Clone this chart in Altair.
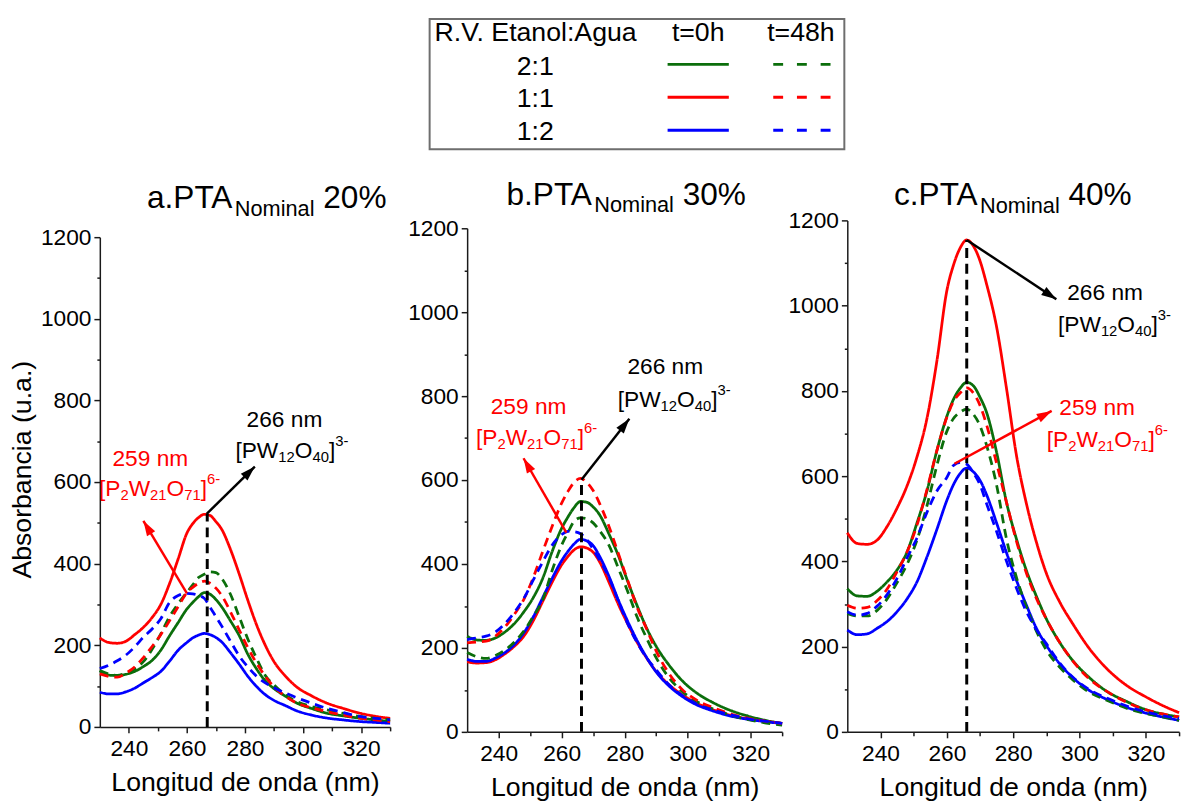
import math
import altair as alt
import pandas as pd

FONT = "Liberation Sans"

# ---------------- data ----------------
WL = [230, 233, 236, 239, 242, 245, 248, 251, 254, 257, 260, 262, 264, 266, 268,
      270, 272, 275, 278, 281, 284, 287, 290, 294, 298, 303, 308, 314, 320, 325, 330]

RATIOS = ["2:1", "1:1", "1:2"]
TIMES = ["t=0h", "t=48h"]
COLORS = ["#0b6e0b", "#ff0000", "#0000ff"]

# a. PTA Nominal 20%
A_21_0 = [138, 127, 126, 129, 136, 148, 163, 188, 223, 256, 289, 305, 319, 329, 325, 312, 294, 260, 224, 178, 142, 113, 94, 75, 58, 45, 34, 27, 21, 17, 13]
A_11_0 = [218, 207, 205, 210, 226, 244, 268, 300, 351, 412, 475, 498, 513, 521, 518, 503, 484, 435, 375, 310, 250, 200, 160, 124, 97, 76, 59, 45, 33, 26, 21]
A_12_0 = [85, 81, 81, 86, 95, 108, 121, 136, 161, 188, 207, 218, 225, 229, 226, 219, 208, 182, 154, 124, 99, 79, 65, 52, 39, 29, 22, 17, 13, 11, 9]
A_21_48 = [138, 130, 126, 132, 142, 160, 190, 228, 270, 302, 330, 348, 366, 374, 380, 378, 364, 325, 270, 215, 168, 126, 103, 78, 62, 50, 42, 33, 25, 21, 17]
A_11_48 = [130, 124, 122, 132, 147, 170, 197, 226, 260, 295, 329, 342, 352, 357, 352, 340, 322, 282, 238, 194, 156, 124, 98, 75, 58, 47, 38, 29, 21, 17, 13]
A_12_48 = [143, 151, 162, 176, 196, 220, 240, 265, 305, 322, 327, 326, 322, 315, 293, 270, 247, 210, 174, 147, 124, 108, 96, 83, 71, 58, 46, 35, 25, 21, 17]

# b. PTA Nominal 30%
B_21_0 = [228, 219, 218, 224, 238, 258, 286, 320, 366, 430, 485, 512, 535, 549, 547, 536, 518, 472, 420, 358, 300, 247, 204, 160, 124, 92, 70, 50, 36, 27, 20]
B_11_0 = [167, 164, 165, 172, 186, 204, 228, 265, 311, 357, 398, 418, 434, 441, 438, 428, 406, 357, 304, 257, 213, 176, 144, 113, 90, 68, 53, 39, 30, 25, 20]
B_12_0 = [173, 168, 168, 176, 189, 208, 236, 274, 320, 366, 408, 430, 448, 459, 455, 444, 419, 371, 314, 263, 217, 177, 143, 110, 86, 64, 50, 37, 29, 24, 20]
B_21_48 = [189, 179, 175, 182, 195, 214, 240, 275, 315, 385, 445, 475, 502, 510, 508, 498, 480, 445, 390, 334, 273, 223, 177, 130, 98, 72, 55, 39, 28, 21, 16]
B_11_48 = [212, 214, 216, 228, 250, 280, 316, 368, 430, 490, 545, 573, 595, 604, 594, 575, 545, 490, 425, 360, 296, 245, 193, 140, 103, 75, 58, 42, 31, 25, 20]
B_12_48 = [220, 224, 228, 238, 258, 285, 318, 362, 405, 445, 470, 478, 477, 472, 458, 435, 410, 368, 312, 257, 212, 176, 148, 113, 88, 66, 52, 40, 30, 25, 20]

# c. PTA Nominal 40%
C_21_0 = [336, 319, 318, 330, 352, 380, 422, 490, 565, 660, 740, 780, 806, 820, 812, 785, 749, 656, 538, 452, 378, 318, 265, 210, 167, 127, 96, 72, 52, 42, 35]
C_11_0 = [467, 442, 440, 450, 482, 525, 577, 645, 735, 870, 1035, 1095, 1135, 1154, 1140, 1105, 1050, 950, 805, 648, 535, 445, 372, 305, 253, 195, 150, 110, 82, 62, 45]
C_12_0 = [239, 228, 230, 243, 259, 282, 312, 352, 410, 475, 543, 580, 606, 619, 610, 590, 556, 490, 420, 355, 297, 243, 203, 160, 127, 97, 77, 58, 44, 35, 27]
C_21_48 = [278, 272, 272, 285, 312, 350, 393, 450, 530, 625, 705, 735, 750, 757, 745, 718, 672, 579, 452, 362, 293, 236, 192, 152, 122, 93, 75, 56, 43, 35, 27]
C_11_48 = [297, 290, 292, 308, 335, 376, 422, 485, 568, 660, 738, 775, 795, 807, 795, 766, 720, 630, 538, 447, 372, 313, 265, 210, 166, 124, 96, 70, 52, 42, 35]
C_12_48 = [282, 274, 278, 295, 322, 360, 408, 455, 515, 565, 597, 625, 632, 628, 608, 580, 535, 470, 400, 337, 282, 240, 207, 162, 128, 99, 80, 61, 47, 38, 31]

SERIES = {
    "a": [A_21_0, A_11_0, A_12_0, A_21_48, A_11_48, A_12_48],
    "b": [B_21_0, B_11_0, B_12_0, B_21_48, B_11_48, B_12_48],
    "c": [C_21_0, C_11_0, C_12_0, C_21_48, C_11_48, C_12_48],
}

TITLES = {"a": ("a.PTA", "Nominal", "20%"), "b": ("b.PTA", "Nominal", "30%"), "c": ("c.PTA", "Nominal", "40%")}

# annotation anchors (data units: nm, absorbance)
PEAK_LINE = {"a": (267.0, 522), "b": (266.3, 601), "c": (266.0, 1154)}
BLACK_ARROW = {"a": (266.8, 522, 283.4, 638), "b": (266.3, 601, 281.5, 746), "c": (266.0, 1154, 293.0, 1015)}
RED_ARROW = {"a": (260.0, 327, 245.0, 505), "b": (261.5, 475, 247.9, 652), "c": (262.3, 629, 291.6, 753)}
LBL_266 = {"a": (293.6, 755), "b": (292.9, 871), "c": (307.7, 1031)}
LBL_PW = {"a": (276.7, 678), "b": (277.8, 793), "c": (293.5, 957)}
LBL_259 = {"a": (247.4, 658), "b": (249.5, 776), "c": (305.3, 761)}
LBL_P2W = {"a": (229.7, 585), "b": (232.8, 703), "c": (290.1, 687)}
TITLE_POS = {"a": (287.5, 1271), "b": (280.5, 1256), "c": (279.9, 1235)}

# ---------------- layout ----------------
H = 518
P = {
    "a": dict(width=306, xr=[0, 294], yr=[513, 17], xoff=-5),
    "b": dict(width=319, xr=[0, 319], yr=[518, 8], xoff=0),
    "c": dict(width=336, xr=[0, 336], yr=[518, 0], xoff=0),
}

ADV = {'0': .556, '1': .556, '2': .556, '3': .556, '4': .556, '5': .556, '6': .556,
       '7': .556, '8': .556, '9': .556, '[': .278, ']': .278, 'P': .667, 'W': .944,
       'O': .778, '-': .333, ' ': .278, 'n': .556, 'm': .833, 'a': .556, '.': .278,
       'T': .611, 'A': .667, 'N': .722, 'o': .556, 'i': .222, 'l': .222, '%': .889,
       'b': .556, 'c': .5}


def tw(s, fs):
    return sum(ADV.get(ch, 0.556) for ch in s) * fs


def rich(pieces, x0, y0, sx, sy, color, anchor="left"):
    """pieces: (text or None for a gap, fontsize, dy pixels down, gapwidth)"""
    total = sum((tw(t, fs) if t is not None else g) for t, fs, dy, g in pieces)
    cur = 0.0 if anchor == "left" else -total / 2.0
    rows = []
    for t, fs, dy, g in pieces:
        if t is None:
            cur += g
            continue
        rows.append(dict(t=t, x=x0 + cur / sx, y=y0 - dy / sy, fs=fs, col=color))
        cur += tw(t, fs)
    return rows


NS, SS = 23, 15


def formula(parts):
    out = []
    for t, k in parts:
        if k == "n":
            out.append((t, NS, 8.0, 0))
        elif k == "sub":
            out.append((t, SS, 12.0, 0))
        else:
            out.append((t, SS, -4.0, 0))
    return out


PW = [("[PW", "n"), ("12", "sub"), ("O", "n"), ("40", "sub"), ("]", "n"), ("3-", "sup")]
P2W = [("[P", "n"), ("2", "sub"), ("W", "n"), ("21", "sub"), ("O", "n"), ("71", "sub"), ("]", "n"), ("6-", "sup")]


def build_panel(key):
    p = P[key]
    sx = (p["xr"][1] - p["xr"][0]) / 100.0
    sy = (p["yr"][0] - p["yr"][1]) / 1200.0
    xs = alt.Scale(domain=[230, 330], range=p["xr"], nice=False, zero=False)
    ys = alt.Scale(domain=[0, 1200], range=p["yr"], nice=False, zero=False)

    x_axis = alt.Axis(
        values=list(range(240, 331, 10)),
        labelExpr="datum.value % 20 === 0 ? datum.label : ''",
        tickSize={"condition": {"test": "datum.value % 20 === 0", "value": 6}, "value": 4},
        title="Longitud de onda (nm)", offset=p["xoff"], format="d",
    )
    if key == "a":
        y_axis = alt.Axis(
            values=list(range(0, 1201, 100)),
            labelExpr="datum.value % 200 === 0 ? datum.label : ''",
            tickSize={"condition": {"test": "datum.value % 200 === 0", "value": 6}, "value": 3},
            title="Absorbancia (u.a.)", format="d", titleX=-64, titleY=252,
        )
    else:
        y_axis = alt.Axis(
            values=list(range(0, 1201, 100)),
            labelExpr="datum.value % 200 === 0 ? datum.label : ''",
            tickSize={"condition": {"test": "datum.value % 200 === 0", "value": 6}, "value": 3},
            title="", format="d",
        )

    def X(f):
        return alt.X(f"{f}:Q", scale=xs, axis=x_axis)

    def Y(f):
        return alt.Y(f"{f}:Q", scale=ys, axis=y_axis)

    rows = []
    for i, vals in enumerate(SERIES[key]):
        for w, v in zip(WL, vals):
            rows.append(dict(wl=w, val=v, ratio=RATIOS[i % 3], time=TIMES[i // 3], order=i))
    df = pd.DataFrame(rows)

    lines = alt.Chart(df).mark_line(strokeWidth=2.8, interpolate="monotone").encode(
        x=X("wl"),
        y=Y("val"),
        color=alt.Color("ratio:N", scale=alt.Scale(domain=RATIOS, range=COLORS), legend=None),
        strokeDash=alt.StrokeDash("time:N", scale=alt.Scale(domain=TIMES, range=[[1, 0], [9, 6]]), legend=None),
        detail="order:N",
    )

    px, py = PEAK_LINE[key]
    vline = alt.Chart(pd.DataFrame([dict(wl=px, val=0, y1=py)])).mark_rule(
        color="black", strokeWidth=3, strokeDash=[10, 6]).encode(x=X("wl"), y=Y("val"), y2="y1:Q")

    arr = []
    for (x1, y1, x2, y2), col in ((BLACK_ARROW[key], "black"), (RED_ARROW[key], "#ff0000")):
        dxp = (x2 - x1) * sx
        dyp = -(y2 - y1) * sy
        ang = math.degrees(math.atan2(dxp, -dyp)) % 360
        arr.append(dict(wl=x1, val=y1, x2=x2, y2=y2, col=col, ang=ang))
    adf = pd.DataFrame(arr)
    shafts = alt.Chart(adf).mark_rule(strokeWidth=2.5).encode(
        x=X("wl"), y=Y("val"), x2="x2:Q", y2="y2:Q", color=alt.Color("col:N", scale=None))
    hdf = pd.DataFrame([dict(wl=r["x2"], val=r["y2"], col=r["col"], ang=r["ang"]) for r in arr])
    heads = alt.Chart(hdf).mark_point(
        shape="M0,0L0.6,1.9L-0.6,1.9Z", filled=True, size=256, opacity=1, strokeWidth=0).encode(
        x=X("wl"), y=Y("val"), angle=alt.Angle("ang:Q", scale=None), color=alt.Color("col:N", scale=None))

    trows = []
    x0, y0 = LBL_266[key]
    trows += rich([("266 nm", NS, 8.0, 0)], x0, y0, sx, sy, "black", anchor="center")
    x0, y0 = LBL_PW[key]
    trows += rich(formula(PW), x0, y0, sx, sy, "black")
    x0, y0 = LBL_259[key]
    trows += rich([("259 nm", NS, 8.0, 0)], x0, y0, sx, sy, "#ff0000", anchor="center")
    x0, y0 = LBL_P2W[key]
    trows += rich(formula(P2W), x0, y0, sx, sy, "#ff0000")
    t1, t2, t3 = TITLES[key]
    x0, y0 = TITLE_POS[key]
    trows += rich([(t1, 32, 0, 0), (t2, 22, 7.5, 0), (None, 0, 0, 0.278 * 32), (t3, 32, 0, 0)],
                  x0, y0, sx, sy, "black", anchor="center")
    tdf = pd.DataFrame(trows).rename(columns={"x": "wl", "y": "val"})
    texts = alt.Chart(tdf).mark_text(align="left", baseline="alphabetic", font=FONT).encode(
        x=X("wl"), y=Y("val"), text="t:N",
        size=alt.Size("fs:Q", scale=None), color=alt.Color("col:N", scale=None))

    layers = [lines, vline, shafts, heads, texts]

    if key == "b":
        # legend drawn in panel b's coordinates (offsets measured from panel origin)
        def bx(pxl):
            return 230 + pxl / sx

        def by(pyl):
            return (p["yr"][0] - pyl) / sy

        box = alt.Chart(pd.DataFrame([dict(wl=bx(-38), x2=bx(382), val=by(-204), y2=by(-72))])).mark_rect(
            fill="white", fillOpacity=0, stroke="#6e6e6e", strokeWidth=2).encode(
            x=X("wl"), x2="x2:Q", y=Y("val"), y2="y2:Q")
        row_y = [-158, -124.7, -91.3]
        lab_y = [-147.3, -115, -81.7]
        lrows = [dict(wl=bx(203), x2=bx(265), val=by(row_y[i]), col=COLORS[i]) for i in range(3)]
        drows = [dict(wl=bx(310), x2=bx(371), val=by(row_y[i]), col=COLORS[i]) for i in range(3)]
        leg_solid = alt.Chart(pd.DataFrame(lrows)).mark_rule(strokeWidth=3).encode(
            x=X("wl"), x2="x2:Q", y=Y("val"), color=alt.Color("col:N", scale=None))
        leg_dash = alt.Chart(pd.DataFrame(drows)).mark_rule(strokeWidth=3, strokeDash=[10, 14]).encode(
            x=X("wl"), x2="x2:Q", y=Y("val"), color=alt.Color("col:N", scale=None))
        head = alt.Chart(pd.DataFrame([dict(t="R.V. Etanol:Agua", wl=bx(-33), val=by(-182))])).mark_text(
            align="left", baseline="alphabetic", font=FONT, fontSize=27, color="black").encode(
            x=X("wl"), y=Y("val"), text="t:N")
        crow = [dict(t="t=0h", wl=bx(234), val=by(-182)), dict(t="t=48h", wl=bx(338), val=by(-182))]
        crow += [dict(t=RATIOS[i], wl=bx(69), val=by(lab_y[i])) for i in range(3)]
        ctext = alt.Chart(pd.DataFrame(crow)).mark_text(
            align="center", baseline="alphabetic", font=FONT, fontSize=27, color="black").encode(
            x=X("wl"), y=Y("val"), text="t:N")
        layers += [box, leg_solid, leg_dash, head, ctext]

    return alt.layer(*layers).properties(width=p["width"], height=H)


chart = alt.hconcat(build_panel("a"), build_panel("b"), build_panel("c"),
                    spacing=66, bounds="flush").properties(
    padding={"left": 1, "top": 5, "right": 0, "bottom": 2}
).configure_view(stroke=None).configure_axis(
    grid=False, domainColor="#1a1a1a", domainWidth=1.5, tickColor="#1a1a1a", tickWidth=1.5,
    labelFont=FONT, labelFontSize=23, labelColor="black",
    titleFont=FONT, titleFontSize=27, titleFontWeight="normal", titleColor="black",
).configure_axisX(labelPadding=5, titlePadding=9).configure_axisY(labelPadding=3)

chart.save("out.html", embed_options={"renderer": "svg", "actions": False})
